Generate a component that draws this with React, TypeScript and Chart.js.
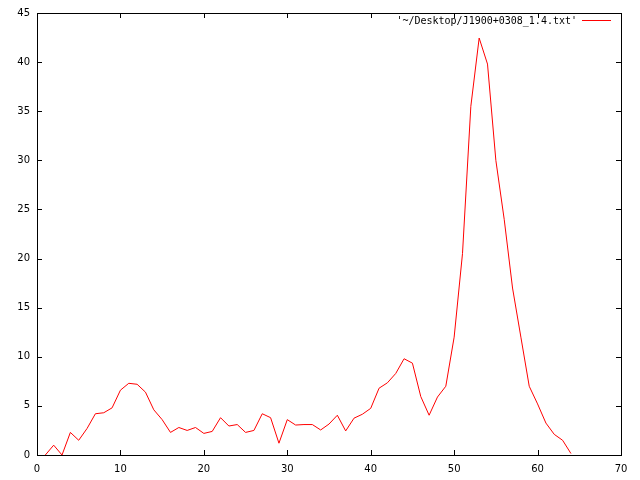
import React, { useEffect, useRef } from "react";
import { Chart, registerables } from "chart.js";

Chart.register(...registerables);

const xValues = [1, 2, 3, 4, 5, 6, 7, 8, 9, 10, 11, 12, 13, 14, 15, 16, 17, 18, 19, 20, 21, 22, 23, 24, 25, 26, 27, 28, 29, 30, 31, 32, 33, 34, 35, 36, 37, 38, 39, 40, 41, 42, 43, 44, 45, 46, 47, 48, 49, 50, 51, 52, 53, 54, 55, 56, 57, 58, 59, 60, 61, 62, 63, 64];
const yValues = [0, 1.0, 0, 2.3, 1.5, 2.7, 4.2, 4.3, 4.8, 6.6, 7.3, 7.2, 6.4, 4.6, 3.6, 2.3, 2.8, 2.5, 2.8, 2.2, 2.4, 3.8, 2.95, 3.1, 2.3, 2.5, 4.2, 3.8, 1.2, 3.6, 3.05, 3.1, 3.1, 2.55, 3.15, 4.05, 2.45, 3.75, 4.15, 4.75, 6.8, 7.35, 8.3, 9.8, 9.35, 5.95, 4.05, 5.9, 7.0, 12.0, 20.5, 35.5, 42.45, 39.8, 30.0, 24.0, 17.0, 12.0, 7.0, 5.2, 3.25, 2.1, 1.5, 0.15];
const xTicks = [0, 10, 20, 30, 40, 50, 60, 70];
const yTicks = [0, 5, 10, 15, 20, 25, 30, 35, 40, 45];
const seriesLabel = "'~/Desktop/J1900+0308_1.4.txt'";

const frameTicks = {
  id: "frameTicks",
  afterDraw(chart: any) {
    const { ctx, chartArea } = chart;
    const { left, right, top, bottom } = chartArea;
    const xs = chart.scales.x;
    const ys = chart.scales.y;
    const L = 5;
    ctx.save();
    ctx.strokeStyle = "#000";
    ctx.lineWidth = 1;
    ctx.beginPath();
    for (const t of xTicks) {
      const px = Math.round(xs.getPixelForValue(t)) + 0.5;
      ctx.moveTo(px, bottom);
      ctx.lineTo(px, bottom - L);
      ctx.moveTo(px, top);
      ctx.lineTo(px, top + L);
    }
    for (const t of yTicks) {
      const py = Math.round(ys.getPixelForValue(t)) + 0.5;
      ctx.moveTo(left, py);
      ctx.lineTo(left + L, py);
      ctx.moveTo(right, py);
      ctx.lineTo(right - L, py);
    }
    ctx.stroke();
    ctx.strokeRect(Math.round(left) + 0.5, Math.round(top) + 0.5, Math.round(right - left), Math.round(bottom - top));
    // legend
    ctx.font = "10px 'DejaVu Sans Mono'";
    ctx.fillStyle = "#000";
    ctx.textAlign = "right";
    ctx.textBaseline = "middle";
    ctx.fillText(seriesLabel, 577, 21);
    ctx.strokeStyle = "#ff0000";
    ctx.beginPath();
    ctx.moveTo(582, 20.5);
    ctx.lineTo(611, 20.5);
    ctx.stroke();
    ctx.restore();
  },
};

export default function App() {
  const ref = useRef<HTMLCanvasElement>(null);
  useEffect(() => {
    document.body.style.margin = "0";
    const chart = new Chart(ref.current!, {
      type: "line",
      data: {
        datasets: [
          {
            label: seriesLabel,
            data: xValues.map((x, i) => ({ x, y: yValues[i] })),
            borderColor: "#ff0000",
            borderWidth: 1,
            pointRadius: 0,
            tension: 0,
            fill: false,
          },
        ],
      },
      options: {
        animation: false,
        responsive: false,
        maintainAspectRatio: false,
        layout: { padding: { top: 12, right: 19, left: 0, bottom: 0 } },
        plugins: { legend: { display: false }, tooltip: { enabled: false } },
        scales: {
          x: {
            type: "linear",
            min: 0,
            max: 70,
            afterFit: (s: any) => { s.height = 25; },
            afterBuildTicks: (s: any) => { s.ticks = xTicks.map((v) => ({ value: v })); },
            grid: { display: false, drawTicks: false },
            border: { display: false },
            ticks: { color: "#000", font: { family: "DejaVu Sans", size: 10 }, padding: 8, maxRotation: 0, autoSkip: false },
          },
          y: {
            type: "linear",
            min: 0,
            max: 45,
            afterFit: (s: any) => { s.width = 37; },
            afterBuildTicks: (s: any) => { s.ticks = yTicks.map((v) => ({ value: v })); },
            grid: { display: false, drawTicks: false },
            border: { display: false },
            ticks: { color: "#000", font: { family: "DejaVu Sans", size: 10 }, padding: 7, autoSkip: false },
          },
        },
      },
      plugins: [frameTicks],
    });
    return () => chart.destroy();
  }, []);
  return (
    <div style={{ position: "fixed", left: 0, top: 0, width: 640, height: 480, background: "#fff" }}>
      <canvas ref={ref} width={640} height={480} style={{ display: "block" }} />
    </div>
  );
}
